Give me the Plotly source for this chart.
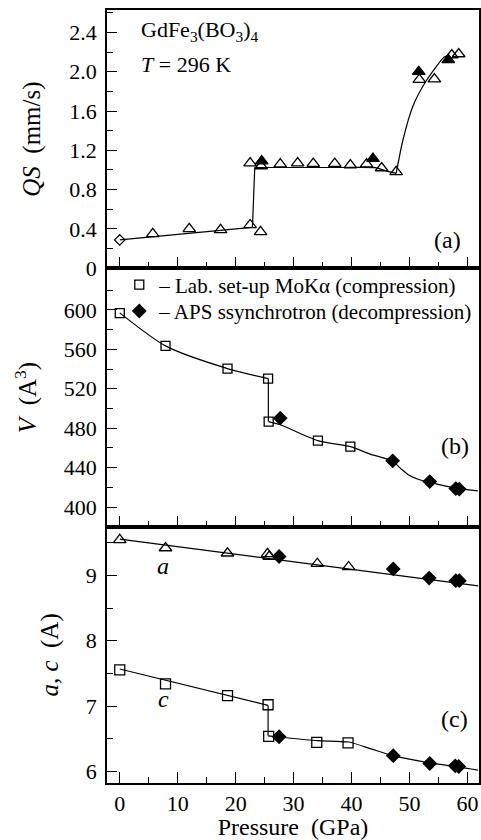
import plotly.graph_objects as go

FONT = "Liberation Serif"

# ---------------- Panel (a): quadrupole splitting ----------------
qs_diamond_p = [0.0]
qs_diamond_v = [0.288]

qs_open_p = [5.7, 12.0, 17.4, 22.5, 24.3,
             22.5, 24.4, 27.7, 30.7, 33.4, 37.1, 39.8, 42.6, 45.2, 47.7,
             51.7, 54.3, 57.3, 58.5]
qs_open_v = [0.35, 0.40, 0.39, 0.44, 0.37,
             1.07, 1.04, 1.06, 1.07, 1.065, 1.065, 1.05, 1.06, 1.02, 0.98,
             1.92, 1.925, 2.17, 2.18]

qs_fill_p = [24.5, 43.7, 51.6, 56.7]
qs_fill_v = [1.09, 1.115, 2.00, 2.12]

qs_fit1_p = [0.0, 22.8]
qs_fit1_v = [0.288, 0.415]
qs_jump_p = [22.9, 23.3]
qs_jump_v = [0.415, 1.025]
qs_fit2_p = [23.3, 30.0, 38.0, 44.3, 46.0, 47.7]
qs_fit2_v = [1.025, 1.025, 1.025, 1.022, 0.99, 0.965]
qs_fit3_p = [47.7, 48.9, 50.6, 52.6, 54.6, 56.0, 56.8]
qs_fit3_v = [0.965, 1.31, 1.65, 1.88, 2.05, 2.15, 2.165]

qs_ticks = [0, 0.4, 0.8, 1.2, 1.6, 2.0, 2.4]
qs_ticktext = ["0", "0.4", "0.8", "1.2", "1.6", "2.0", "2.4"]

# ---------------- Panel (b): unit-cell volume ----------------
v_lab_p = [0.0, 7.9, 18.6, 25.6, 25.7, 34.2, 39.8]
v_lab_v = [596.7, 563.5, 540.5, 530.3, 486.7, 467.4, 461.3]
v_aps_p = [27.7, 47.1, 53.5, 58.0, 58.6]
v_aps_v = [490.2, 446.9, 425.9, 418.8, 418.2]

v_fit1_p = [0.0, 7.9, 18.6, 25.6]
v_fit1_v = [597.0, 563.5, 540.5, 530.3]
v_jump_p = [25.65, 25.65]
v_jump_v = [530.3, 486.7]
v_fit2_p = [25.65, 27.7, 34.2, 39.8, 43.1, 47.1, 48.6, 50.0, 51.6, 53.5, 58.3, 61.8]
v_fit2_v = [486.7, 483.5, 467.4, 461.3, 454.0, 446.5, 438.5, 432.0, 428.0, 425.0, 418.9, 416.5]

v_ticks = [400, 440, 480, 520, 560, 600]
v_minor = [380, 420, 460, 500, 540, 580, 620]

# ---------------- Panel (c): lattice parameters ----------------
a_lab_p = [0.0, 7.9, 18.6, 25.5, 25.8, 34.1, 39.5]
a_lab_v = [9.546, 9.42, 9.34, 9.33, 9.29, 9.18, 9.13]
a_aps_p = [27.5, 47.2, 53.4, 58.0, 58.6]
a_aps_v = [9.29, 9.10, 8.96, 8.92, 8.92]
a_fit_p = [0.0, 61.85]
a_fit_v = [9.557, 8.84]

c_lab_p = [0.0, 7.9, 18.6, 25.6, 25.7, 34.0, 39.4]
c_lab_v = [7.555, 7.34, 7.16, 7.02, 6.535, 6.445, 6.435]
c_aps_p = [27.5, 47.2, 53.5, 57.9, 58.5]
c_aps_v = [6.53, 6.24, 6.12, 6.085, 6.075]
c_fit1_p = [0.0, 25.6]
c_fit1_v = [7.567, 7.01]
c_jump_p = [25.6, 25.6]
c_jump_v = [7.01, 6.545]
c_fit2_p = [25.6, 27.7, 34.1, 39.5, 43.5, 47.2, 53.4, 58.4, 61.8]
c_fit2_v = [6.545, 6.525, 6.47, 6.45, 6.34, 6.24, 6.13, 6.07, 6.02]

p_ticks = [0, 10, 20, 30, 40, 50, 60]

# ------------------------------------------------------------
fig = go.Figure()

def line(px, py, xa, ya, shape="linear"):
    fig.add_trace(go.Scatter(x=px, y=py, mode="lines", xaxis=xa, yaxis=ya,
                             line=dict(color="black", width=1.2, shape=shape,
                                       smoothing=0.7),
                             showlegend=False, hoverinfo="skip"))

def pts(px, py, xa, ya, symbol, size, name=None, legend="legend"):
    fig.add_trace(go.Scatter(
        x=px, y=py, mode="markers", xaxis=xa, yaxis=ya,
        marker=dict(symbol=symbol, size=size,
                    color="black",
                    line=dict(color="black", width=1.3)),
        name=name, showlegend=name is not None, legend=legend))

# Panel (a)
line(qs_fit1_p, qs_fit1_v, "x", "y")
line(qs_jump_p, qs_jump_v, "x", "y")
line(qs_fit2_p, qs_fit2_v, "x", "y", "spline")
line(qs_fit3_p, qs_fit3_v, "x", "y", "spline")
pts(qs_diamond_p, qs_diamond_v, "x", "y", "diamond-open", 8)
pts(qs_open_p, qs_open_v, "x", "y", "triangle-up-open", 11)
pts(qs_fill_p, qs_fill_v, "x", "y", "triangle-up", 11)

# Panel (b)
line(v_fit1_p, v_fit1_v, "x2", "y2", "spline")
line(v_jump_p, v_jump_v, "x2", "y2")
line(v_fit2_p, v_fit2_v, "x2", "y2", "spline")
pts(v_lab_p, v_lab_v, "x2", "y2", "square-open", 9,
    name="\u2013 Lab. set-up MoK\u03b1 (compression)", legend="legend")
pts(v_aps_p, v_aps_v, "x2", "y2", "diamond", 10,
    name="\u2013 APS ssynchrotron (decompression)", legend="legend2")

# Panel (c)
line(a_fit_p, a_fit_v, "x3", "y3")
line(c_fit1_p, c_fit1_v, "x3", "y3")
line(c_jump_p, c_jump_v, "x3", "y3")
line(c_fit2_p, c_fit2_v, "x3", "y3", "spline")
pts(a_lab_p, a_lab_v, "x3", "y3", "triangle-up-open", 11)
pts(a_aps_p, a_aps_v, "x3", "y3", "diamond", 10)
pts(c_lab_p, c_lab_v, "x3", "y3", "square-open", 10)
pts(c_aps_p, c_aps_v, "x3", "y3", "diamond", 10)

top_h = 773.3
dom_c = [0.0, 256.3 / top_h]
dom_b = [256.3 / top_h, 515.0 / top_h]
dom_a = [515.0 / top_h, 1.0]

tickfont = dict(family=FONT, size=22, color="black")
titlefont = dict(family=FONT, size=25, color="black")

xcommon = dict(range=[-2.2, 62.0], showline=True, mirror=True, linecolor="black",
               linewidth=1.5, ticks="inside", ticklen=11, tickwidth=1.2,
               tickcolor="black", tickvals=p_ticks, showgrid=False, zeroline=False,
               automargin=False,
               minor=dict(ticks="inside", ticklen=6, tickwidth=1.2, dtick=5,
                          tick0=0, tickcolor="black"),
               tickfont=tickfont)
ycommon = dict(showline=True, mirror=True, linecolor="black", linewidth=1.5,
               ticks="inside", ticklen=10, tickwidth=1.2, tickcolor="black",
               showgrid=False, zeroline=False, tickfont=tickfont,
               automargin=False, ticklabelstandoff=4)

legend_common = dict(xanchor="left", yanchor="middle", bgcolor="rgba(0,0,0,0)",
                     font=dict(family=FONT, size=21, color="black"),
                     itemwidth=30, borderwidth=0)

fig.update_layout(
    width=481, height=840,
    margin=dict(l=107, r=2, t=10, b=57),
    paper_bgcolor="white", plot_bgcolor="white",
    font=dict(family=FONT, color="black"),
    xaxis=dict(xcommon, anchor="y", showticklabels=False),
    xaxis2=dict(xcommon, anchor="y2", showticklabels=False, matches="x"),
    xaxis3=dict(xcommon, anchor="y3", matches="x",
                title=dict(text="Pressure\u00a0 (GPa)",
                           font=dict(family=FONT, size=24, color="black"), standoff=14)),
    yaxis=dict(ycommon, domain=dom_a, range=[0, 2.628], anchor="x",
               tickvals=qs_ticks, ticktext=qs_ticktext,
               minor=dict(ticks="inside", ticklen=6, tickwidth=1.2, dtick=0.2,
                          tick0=0, tickcolor="black"),
               title=dict(text="<i>QS</i>\u00a0 (mm/s)", font=titlefont, standoff=22)),
    yaxis2=dict(ycommon, domain=dom_b, range=[380.0, 642.3], anchor="x2",
                tickvals=v_ticks,
                minor=dict(ticks="inside", ticklen=6, tickwidth=1.2,
                           tickvals=v_minor, tickcolor="black"),
                title=dict(text="<i>V</i>\u00a0 (A<sup>3</sup>)", font=titlefont, standoff=20)),
    yaxis3=dict(ycommon, domain=dom_c, range=[5.822, 9.745], anchor="x3",
                tickvals=[6, 7, 8, 9],
                minor=dict(ticks="inside", ticklen=6, tickwidth=1.2, dtick=0.5,
                           tick0=6, tickcolor="black"),
                title=dict(text="<i>a</i>, <i>c</i>\u00a0 (A)", font=titlefont, standoff=20)),
    legend=dict(legend_common, x=0.033, y=(783.3 - 285.0) / top_h),
    legend2=dict(legend_common, x=0.033, y=(783.3 - 311.5) / top_h),
    showlegend=True,
)

def note(text, x, y, xref, yref, xanchor="left", size=22):
    fig.add_annotation(text=text, x=x, y=y, xref=xref, yref=yref,
                       xanchor=xanchor, yanchor="middle", showarrow=False,
                       font=dict(family=FONT, size=size, color="black"))

note("GdFe<sub>3</sub>(BO<sub>3</sub>)<sub>4</sub>", 0.087, 0.918, "x domain", "y domain")
note("<i>T</i> = 296 K", 0.087, 0.787, "x domain", "y domain")
note("(a)", 0.957, 0.110, "x domain", "y domain", "right", 24)
note("(b)", 0.978, 0.312, "x2 domain", "y2 domain", "right", 24)
note("(c)", 0.975, 0.250, "x3 domain", "y3 domain", "right", 24)
note("<i>a</i>", 0.151, 0.846, "x3 domain", "y3 domain", "center", 24)
note("<i>c</i>", 0.151, 0.328, "x3 domain", "y3 domain", "center", 24)

fig.write_html(
    "out.html",
    config={"displayModeBar": False},
    post_script="document.body.style.margin='0';document.body.style.overflow='hidden';",
)
